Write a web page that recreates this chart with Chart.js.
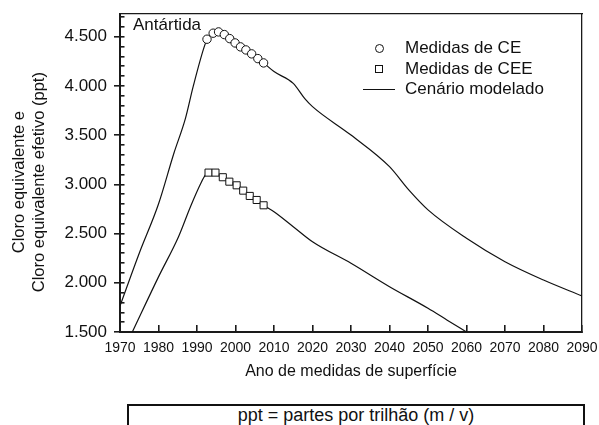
<!DOCTYPE html>
<html>
<head>
<meta charset="utf-8">
<script src="https://cdn.jsdelivr.net/npm/chart.js@4"></script>
<style>
  html, body { margin: 0; padding: 0; width: 599px; height: 425px; overflow: hidden; background: #fff; }
  body { position: relative; font-family: "Liberation Sans", Arial, sans-serif; color: #111; }
  #wrap { position: absolute; left: 0; top: 0; width: 599px; height: 395px; }
  .lbl { position: absolute; white-space: nowrap; font-size: 17px; line-height: 20px; }
  #box { position: absolute; left: 127px; top: 404px; width: 454px; height: 40px; border: 2px solid #111;
         text-align: center; font-size: 18px; line-height: 19px; }
  .sym { position: absolute; box-sizing: border-box; }
</style>
</head>
<body>
<div id="wrap"><canvas id="c" width="599" height="395"></canvas></div>

<div class="lbl" style="left:133px; top:15px;">Antártida</div>

<div class="sym" style="left:375px; top:44px; width:9px; height:9px; border:1px solid #111; border-radius:50%; background:#fff;"></div>
<div class="sym" style="left:375px; top:65px; width:8px; height:8px; border:1px solid #111; background:#fff;"></div>
<div class="sym" style="left:363px; top:89px; width:32px; height:1.4px; background:#111;"></div>
<div class="lbl" style="left:405px; top:38px;">Medidas de CE</div>
<div class="lbl" style="left:405px; top:59px;">Medidas de CEE</div>
<div class="lbl" style="left:405px; top:79px;">Cenário modelado</div>

<div id="box">ppt = partes por trilhão (m / v)</div>

<script>
// ---- data ----
const modelCEYears  = [1970, 1975, 1980, 1984, 1987, 1989, 1992, 1993, 1995, 1997, 2000, 2003, 2007.3, 2010, 2015, 2018, 2020, 2030, 2040, 2045, 2050, 2060, 2070, 2080, 2090];
const modelCEValues = [1765, 2300, 2800, 3316, 3670, 3992, 4411, 4500, 4545, 4520, 4440, 4365, 4233, 4145, 4025, 3870, 3789, 3500, 3179, 2943, 2740, 2452, 2214, 2028, 1866];

const modelCEEYears  = [1973.2, 1980, 1985.2, 1988.3, 1991, 1992.2, 1993, 1995, 1997, 2000, 2004, 2007.3, 2010, 2015, 2020, 2030, 2040, 2050, 2055, 2060];
const modelCEEValues = [1500, 2060, 2468, 2773, 3011, 3095, 3119, 3115, 3065, 2990, 2870, 2787, 2722, 2570, 2417, 2198, 1960, 1741, 1620, 1500];

const ceYears  = [1992.6, 1994.2, 1995.6, 1997.1, 1998.5, 1999.9, 2001.3, 2002.7, 2004.2, 2005.8, 2007.3];
const ceValues = [4474, 4535, 4548, 4521, 4480, 4436, 4396, 4365, 4325, 4277, 4233];

const ceeYears  = [1993.0, 1994.8, 1996.7, 1998.4, 2000.3, 2002.0, 2003.7, 2005.5, 2007.3];
const ceeValues = [3119, 3119, 3072, 3027, 2990, 2936, 2882, 2841, 2787];

const xTicks = [1970, 1980, 1990, 2000, 2010, 2020, 2030, 2040, 2050, 2060, 2070, 2080, 2090];
const yTicks = [1500, 2000, 2500, 3000, 3500, 4000, 4500];
const yTickLabels = ['1.500', '2.000', '2.500', '3.000', '3.500', '4.000', '4.500'];
const yMinorTicks = [1500, 1600, 1700, 1800, 1900, 2000, 2100, 2200, 2300, 2400, 2500, 2600, 2700, 2800, 2900,
                     3000, 3100, 3200, 3300, 3400, 3500, 3600, 3700, 3800, 3900, 4000, 4100, 4200, 4300, 4400,
                     4500, 4600, 4700];

const pts = (xs, ys) => xs.map((x, i) => ({ x: x, y: ys[i] }));

const FONT = '"Liberation Sans", Arial, sans-serif';
const INK = '#111';
const AX = '#1a1a1a';
const Y_MIN = 1500, Y_MAX = 4730;

function fixSize(prop, val) {
  return s => {
    s[prop] = val;
    s.paddingLeft = 0; s.paddingRight = 0; s.paddingTop = 0; s.paddingBottom = 0;
  };
}

new Chart(document.getElementById('c'), {
  type: 'scatter',
  data: {
    datasets: [
      { label: 'Medidas de CE', data: pts(ceYears, ceValues),
        pointStyle: 'circle', pointRadius: 4.2,
        pointBackgroundColor: '#fff', pointBorderColor: INK, pointBorderWidth: 1, showLine: false },
      { label: 'Medidas de CEE', data: pts(ceeYears, ceeValues),
        pointStyle: 'rect', pointRadius: 5,
        pointBackgroundColor: '#fff', pointBorderColor: INK, pointBorderWidth: 1, showLine: false },
      { label: 'Cenário modelado', data: pts(modelCEYears, modelCEValues),
        showLine: true, pointRadius: 0, borderColor: INK, borderWidth: 1.2, cubicInterpolationMode: 'monotone' },
      { label: 'Cenário modelado (CEE)', data: pts(modelCEEYears, modelCEEValues),
        showLine: true, pointRadius: 0, borderColor: INK, borderWidth: 1.2, cubicInterpolationMode: 'monotone' }
    ]
  },
  options: {
    responsive: false,
    animation: false,
    events: [],
    layout: { padding: { left: 0, right: 17, top: 14, bottom: 0 } },
    plugins: { legend: { display: false }, tooltip: { enabled: false } },
    scales: {
      x: {
        type: 'linear', position: 'bottom', min: 1970, max: 2090,
        grid: { display: true, drawOnChartArea: false, drawTicks: true, tickLength: -7, color: AX, lineWidth: 1.6 },
        border: { display: true, color: AX, width: 2 },
        afterBuildTicks: s => { s.ticks = xTicks.map(v => ({ value: v })); },
        afterFit: fixSize('height', 63),
        ticks: { autoSkip: false, maxRotation: 0, minRotation: 0, padding: 15, color: INK,
                 font: { family: FONT, size: 14 }, callback: v => String(v) },
        title: { display: true, text: 'Ano de medidas de superfície', color: INK,
                 font: { family: FONT, size: 16 }, padding: { top: 0, bottom: 14 } }
      },
      y: {
        type: 'linear', position: 'left', weight: 1, min: Y_MIN, max: Y_MAX,
        grid: { display: true, drawOnChartArea: false, drawTicks: true, tickLength: -4.5, color: AX, lineWidth: 1.6 },
        border: { display: true, color: AX, width: 2 },
        afterBuildTicks: s => { s.ticks = yMinorTicks.map(v => ({ value: v })); },
        afterFit: fixSize('width', 120),
        ticks: { autoSkip: false, padding: 17.5, color: INK, font: { family: FONT, size: 17 },
                 callback: v => { const k = yTicks.indexOf(v); return k >= 0 ? yTickLabels[k] : ''; } },
        title: { display: true,
                 text: ['Cloro equivalente e    ', 'Cloro equivalente efetivo (ppt)    '], color: INK,
                 font: { family: FONT, size: 16.5, lineHeight: 1.2 }, padding: { top: 10, bottom: 0 } }
      },
      yMaj: {
        type: 'linear', position: 'left', weight: 0, min: Y_MIN, max: Y_MAX,
        grid: { display: true, drawOnChartArea: false, drawTicks: true, tickLength: 6, color: AX, lineWidth: 1.6 },
        border: { display: false },
        afterBuildTicks: s => { s.ticks = yTicks.map(v => ({ value: v })); },
        afterFit: fixSize('width', 0),
        ticks: { display: false }
      },
      xTop: {
        type: 'linear', position: 'top', min: 1970, max: 2090,
        grid: { display: false, drawTicks: false },
        border: { display: true, color: AX, width: 1.3 },
        afterFit: fixSize('height', 0),
        ticks: { display: false }
      },
      yRight: {
        type: 'linear', position: 'right', min: Y_MIN, max: Y_MAX,
        grid: { display: false, drawTicks: false },
        border: { display: true, color: AX, width: 1.3 },
        afterFit: fixSize('width', 0),
        ticks: { display: false }
      }
    }
  }
});
</script>
</body>
</html>
